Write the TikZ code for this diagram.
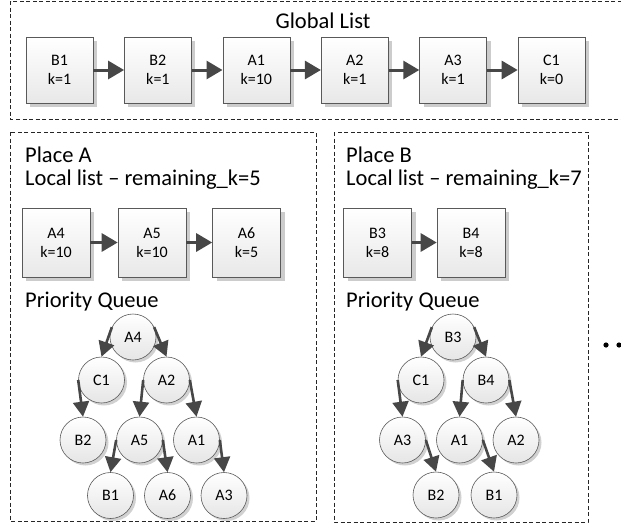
\documentclass[tikz,border=0pt]{standalone}
\usepackage{fontspec}
\setmainfont{Carlito}
\usetikzlibrary{arrows.meta,shadows}
\begin{document}
\begin{tikzpicture}[x=1pt,y=-1pt,
  frame/.style={draw=black!85, dash pattern=on 4pt off 2.5pt, line width=0.8pt},
  lbl/.style={inner sep=0pt, font=\fontsize{22.5}{26}\selectfont, text=black},
  item/.style={draw=black!65, line width=0.6pt, top color=white, bottom color=black!9,
    minimum width=67pt, minimum height=66pt, inner sep=0pt, align=center,
    font=\fontsize{16}{19}\selectfont, text=black,
    general shadow={shadow xshift=4pt, shadow yshift=-4pt, fill=black!20}},
  litem/.style={item, minimum width=68pt, minimum height=69pt},
  pq/.style={circle, draw=black!65, line width=0.6pt, top color=white, bottom color=black!10,
    minimum size=46pt, inner sep=0pt, font=\fontsize{16}{19}\selectfont, text=black,
    general shadow={shadow xshift=2.5pt, shadow yshift=-2.5pt, fill=black!18}},
  link/.style={draw=black!72, line width=3pt, -{Triangle[length=16pt,width=18pt]}},
  tlink/.style={draw=black!72, line width=2.6pt, -{Triangle[length=15pt,width=16pt]}}
]
\useasboundingbox (0,0) rectangle (621,525);
\clip (0,0) rectangle (621,525);

% frames
\draw[frame] (10.5,1) rectangle (640,119);
\draw[frame] (10.5,132) rectangle (316,521);
\draw[frame] (334,132) rectangle (588,522);

% global list
\node[lbl, anchor=base] (gl) at (323,28) {Global List};
\node[item] (g1) at (59.5,70) {B1\\k=1};
\node[item] (g2) at (157.9,70) {B2\\k=1};
\node[item] (g3) at (256.3,70) {A1\\k=10};
\node[item] (g4) at (354.7,70) {A2\\k=1};
\node[item] (g5) at (453.1,70) {A3\\k=1};
\node[item] (g6) at (551.5,70) {C1\\k=0};
\draw[link] (g1.east) -- (g2.west);
\draw[link] (g2.east) -- (g3.west);
\draw[link] (g3.east) -- (g4.west);
\draw[link] (g4.east) -- (g5.west);
\draw[link] (g5.east) -- (g6.west);

% place A
\node[lbl, anchor=base west] (pa) at (25,162) {Place A};
\node[lbl, anchor=base west] (la) at (25,185) {Local list – remaining\_k=5};
\node[litem] (a4) at (56,242.5) {A4\\k=10};
\node[litem] (a5) at (152,242.5) {A5\\k=10};
\node[litem] (a6) at (246.5,242.5) {A6\\k=5};
\draw[link] (a4.east) -- (a5.west);
\draw[link] (a5.east) -- (a6.west);
\node[lbl, anchor=base west] (qa) at (25,307) {Priority Queue};

\node[pq] (ta4) at (133,337) {A4};
\node[pq] (tc1) at (101.5,380) {C1};
\node[pq] (ta2) at (166.5,380) {A2};
\node[pq] (tb2) at (83,440) {B2};
\node[pq] (ta5) at (139.5,440) {A5};
\node[pq] (ta1) at (196.5,440) {A1};
\node[pq] (tb1) at (110.5,495.5) {B1};
\node[pq] (ta6) at (167.5,495.5) {A6};
\node[pq] (ta3) at (224,495.5) {A3};
\draw[tlink] (ta4.155) -- (tc1.north);
\draw[tlink] (ta4.25) -- (ta2.north);
\draw[tlink] (tc1.west) -- (tb2.north);
\draw[tlink] (ta2.west) -- (ta5.north);
\draw[tlink] (ta2.east) -- (ta1.north);
\draw[tlink] (ta5.west) -- (tb1.north);
\draw[tlink] (ta5.east) -- (ta6.north);
\draw[tlink] (ta1.east) -- (ta3.north);

% place B
\node[lbl, anchor=base west] (pb) at (346,162) {Place B};
\node[lbl, anchor=base west] (lb) at (346,185) {Local list – remaining\_k=7};
\node[litem] (b3) at (377.5,242.5) {B3\\k=8};
\node[litem] (b4) at (471,242.5) {B4\\k=8};
\draw[link] (b3.east) -- (b4.west);
\node[lbl, anchor=base west] (qb) at (346,307) {Priority Queue};

\node[pq] (sb3) at (453,337) {B3};
\node[pq] (sc1) at (421,380) {C1};
\node[pq] (sb4) at (486,380) {B4};
\node[pq] (sa3) at (402.5,440) {A3};
\node[pq] (sa1) at (459.5,440) {A1};
\node[pq] (sa2) at (516,440) {A2};
\node[pq] (sb2) at (436,495) {B2};
\node[pq] (sb1) at (494,495) {B1};
\draw[tlink] (sb3.155) -- (sc1.north);
\draw[tlink] (sb3.25) -- (sb4.north);
\draw[tlink] (sc1.west) -- (sa3.north);
\draw[tlink] (sb4.west) -- (sa1.north);
\draw[tlink] (sb4.east) -- (sa2.north);
\draw[tlink] (sa3.east) -- (sb2.north);
\draw[tlink] (sa1.east) -- (sb1.north);

% continuation dots
\fill[black] (606,345) circle (2.6);
\fill[black] (619,345) circle (2.6);
\fill[black] (632,345) circle (2.6);
\end{tikzpicture}
\end{document}
